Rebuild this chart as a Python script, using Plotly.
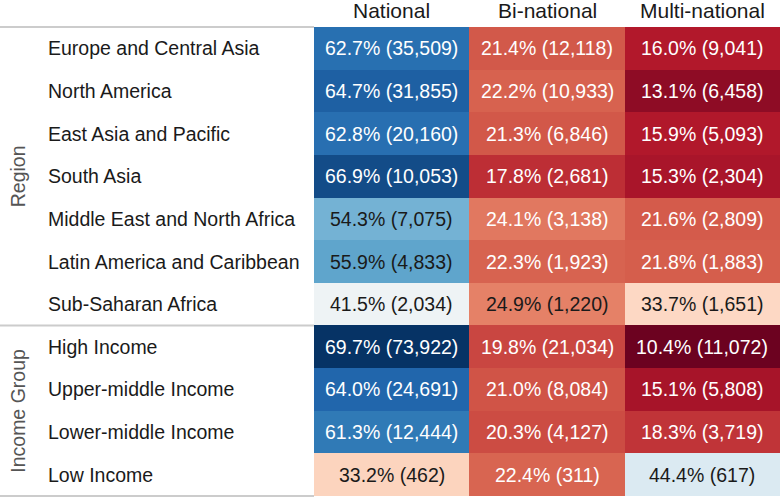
import plotly.graph_objects as go

columns = ["National", "Bi-national", "Multi-national"]
rows = ["Europe and Central Asia", "North America", "East Asia and Pacific", "South Asia",
        "Middle East and North Africa", "Latin America and Caribbean", "Sub-Saharan Africa",
        "High Income", "Upper-middle Income", "Lower-middle Income", "Low Income"]
groups = ["Region"] * 7 + ["Income Group"] * 4

national_pct = [62.7, 64.7, 62.8, 66.9, 54.3, 55.9, 41.5, 69.7, 64.0, 61.3, 33.2]
national_n = [35509, 31855, 20160, 10053, 7075, 4833, 2034, 73922, 24691, 12444, 462]
binational_pct = [21.4, 22.2, 21.3, 17.8, 24.1, 22.3, 24.9, 19.8, 21.0, 20.3, 22.4]
binational_n = [12118, 10933, 6846, 2681, 3138, 1923, 1220, 21034, 8084, 4127, 311]
multinational_pct = [16.0, 13.1, 15.9, 15.3, 21.6, 21.8, 33.7, 10.4, 15.1, 18.3, 44.4]
multinational_n = [9041, 6458, 5093, 2304, 2809, 1883, 1651, 11072, 5808, 3719, 617]

pct_cols = [national_pct, binational_pct, multinational_pct]
n_cols = [national_n, binational_n, multinational_n]

RDBU = [(103, 0, 31), (178, 24, 43), (214, 96, 77), (244, 165, 130), (253, 219, 199),
        (247, 247, 247), (209, 229, 240), (146, 197, 222), (67, 147, 195), (33, 102, 172), (5, 48, 97)]
ZMIN, ZMAX = 10, 70
colorscale = [[i / 10, "rgb(%d,%d,%d)" % c] for i, c in enumerate(RDBU)]


def color_at(v):
    t = min(max((v - ZMIN) / (ZMAX - ZMIN), 0), 1) * 10
    i = min(int(t), 9)
    f = t - i
    a, b = RDBU[i], RDBU[i + 1]
    return [a[k] + (b[k] - a[k]) * f for k in range(3)]


def rel_lum(rgb):
    out = []
    for v in rgb:
        s = v / 255
        out.append(s / 12.92 if s <= 0.03928 else ((s + 0.055) / 1.055) ** 2.4)
    return 0.2126 * out[0] + 0.7152 * out[1] + 0.0722 * out[2]


z = [[pct_cols[c][r] for c in range(3)] for r in range(len(rows))]

fig = go.Figure(go.Heatmap(
    z=z, x=columns, y=rows, colorscale=colorscale, zmin=ZMIN, zmax=ZMAX,
    showscale=False, hoverinfo="skip", xgap=0, ygap=0,
))

FONT = "Liberation Sans, Arial, sans-serif"
ann = []
for r, row in enumerate(rows):
    for c, col in enumerate(columns):
        p = pct_cols[c][r]
        n = n_cols[c][r]
        tc = "#1a1a1a" if rel_lum(color_at(p)) > 0.32 else "white"
        ann.append(dict(x=col, y=row, xref="x", yref="y", text=f"{p:.1f}% ({n:,})",
                        showarrow=False, font=dict(size=19.5, color=tc, family=FONT)))
    ann.append(dict(x=46 / 780, y=row, xref="paper", yref="y", text=row, xanchor="left",
                    showarrow=False, font=dict(size=19.5, color="#1a1a1a", family=FONT)))

for col in columns:
    ann.append(dict(x=col, y=1 - 10 / 498, xref="x", yref="paper", yanchor="middle",
                    text=col, showarrow=False, font=dict(size=21, color="#1a1a1a", family=FONT)))

# group labels
group_names = []
for g in groups:
    if g not in group_names:
        group_names.append(g)
for g in group_names:
    idx = [i for i, gg in enumerate(groups) if gg == g]
    mid = (idx[0] + idx[-1]) / 2
    ann.append(dict(x=18 / 780, y=mid, xref="paper", yref="y", text=g, textangle=-90,
                    xanchor="center", yanchor="middle",
                    showarrow=False, font=dict(size=19.5, color="#555555", family=FONT)))

shapes = []
bounds = [-0.5]
for g in group_names:
    idx = [i for i, gg in enumerate(groups) if gg == g]
    bounds.append(idx[-1] + 0.5)
for b in bounds:
    shapes.append(dict(type="line", xref="paper", yref="y", x0=0, x1=314 / 780, y0=b, y1=b,
                       line=dict(color="rgb(204,204,204)", width=2)))

fig.update_layout(
    width=780, height=498, margin=dict(l=0, r=0, t=0, b=0),
    paper_bgcolor="white", plot_bgcolor="white",
    xaxis=dict(domain=[314 / 780, 1], showticklabels=False, showgrid=False, zeroline=False,
               ticks=""),
    yaxis=dict(domain=[1 / 498, 1 - 26 / 498], autorange="reversed", showticklabels=False,
               showgrid=False, zeroline=False, ticks=""),
    annotations=ann, shapes=shapes, font=dict(family=FONT),
)

fig.write_html("out.html", config={"displayModeBar": False},
               post_script="document.body.style.margin='0';document.body.style.overflow='hidden';")
